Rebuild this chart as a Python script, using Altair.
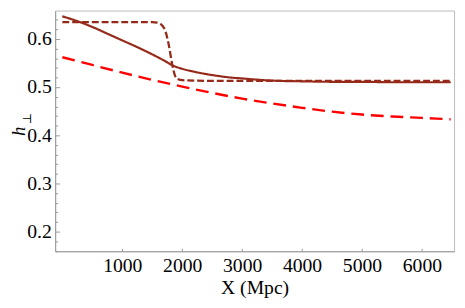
import altair as alt
import pandas as pd

# ---- data ----
x_solid = [0, 250, 500, 750, 1000, 1250, 1500, 1700, 1860, 2000, 2200, 2500, 2800,
           3000, 3300, 3600, 4000, 4500, 5000, 5500, 6000, 6480]
y_solid = [0.647, 0.637, 0.625, 0.611, 0.597, 0.583, 0.568, 0.555, 0.544, 0.538,
           0.532, 0.525, 0.520, 0.518, 0.515, 0.513, 0.512, 0.511, 0.511, 0.510,
           0.510, 0.510]

x_short = [0, 500, 1000, 1500, 1580, 1640, 1690, 1730, 1760, 1790, 1820, 1850,
           1880, 1920, 1970, 2050, 2500, 3000, 4000, 5000, 6000, 6480]
y_short = [0.635, 0.635, 0.635, 0.635, 0.634, 0.631, 0.624, 0.612, 0.597, 0.578,
           0.556, 0.537, 0.524, 0.517, 0.515, 0.514, 0.513, 0.513, 0.513, 0.513,
           0.513, 0.513]

x_long = [0, 500, 1000, 1500, 2000, 2500, 3000, 3500, 4000, 4500, 5000, 5500,
          6000, 6480]
y_long = [0.562, 0.546, 0.530, 0.515, 0.501, 0.488, 0.476, 0.466, 0.457, 0.449,
          0.443, 0.439, 0.436, 0.433]

series = ["solid", "short", "long"]
colors = ["#962a1a", "#962a1a", "#ff0000"]
dashes = [[1, 0], [7, 3], [13, 7]]
widths = [2.2, 2.4, 2.8]

x_ticks = [1000, 2000, 3000, 4000, 5000, 6000]
y_labels = [0.2, 0.3, 0.4, 0.5, 0.6]
y_minor = [round(0.16 + 0.02 * i, 2) for i in range(25)]
y_title_main = "h"
y_title_sub = ["⊥"]

rows = []
for name, xs_, ys_ in [("solid", x_solid, y_solid), ("short", x_short, y_short),
                       ("long", x_long, y_long)]:
    for i, (a, b) in enumerate(zip(xs_, ys_)):
        rows.append({"x": a, "y": b, "s": name, "o": i})
df = pd.DataFrame(rows)

W, H = 406, 245
FONT = "Liberation Serif"
xs = alt.Scale(domain=[-120, 6536], nice=False, zero=False)
ys = alt.Scale(domain=[0.159, 0.659], nice=False, zero=False)

lines = alt.Chart(df).mark_line(interpolate="monotone", clip=True).encode(
    x=alt.X("x:Q", scale=xs, axis=alt.Axis(
        values=x_ticks, ticks=False, grid=False, format="d",
        domainColor="#999999", labelPadding=5, title="X (Mpc)", titlePadding=2)),
    y=alt.Y("y:Q", scale=ys, axis=alt.Axis(
        values=y_labels, ticks=False, grid=False, format=".1f",
        domainColor="#999999", labelPadding=4, title=y_title_main, titlePadding=-2,
        titleFontStyle="italic", titleFontSize=19)),
    color=alt.Color("s:N", scale=alt.Scale(domain=series, range=colors), legend=None),
    strokeDash=alt.StrokeDash("s:N", scale=alt.Scale(domain=series, range=dashes), legend=None),
    strokeWidth=alt.StrokeWidth("s:N", scale=alt.Scale(domain=series, range=widths), legend=None),
    order="o:Q",
)

tick_layer = alt.Chart(df).mark_point(opacity=0).encode(
    x=alt.X("x:Q", scale=xs, axis=alt.Axis(
        orient="top", offset=-H, values=x_ticks, labels=False, domain=False,
        grid=False, tickSize=3, tickColor="#999999", title=None)),
    y=alt.Y("y:Q", scale=ys, axis=alt.Axis(
        orient="right", offset=-W, values=y_minor, labels=False, domain=False,
        grid=False, tickColor="#999999", title=None,
        tickSize={"condition": {"test": "abs(datum.value*10 - round(datum.value*10)) < 0.001",
                                "value": 4.5}, "value": 2.5})),
)

sub = alt.Chart(pd.DataFrame({"t": y_title_sub})).mark_text(
    angle=270, fontSize=12, font="DejaVu Serif", color="black", baseline="middle", align="center"
).encode(text="t:N", x=alt.value(-29), y=alt.value(110))

chart = alt.layer(lines, tick_layer, sub).resolve_scale(
    x="independent", y="independent"
).resolve_axis(
    x="independent", y="independent"
).properties(
    width=W, height=H,
    autosize=alt.AutoSizeParams(type="none"),
    padding={"left": 48, "top": 0, "right": 3, "bottom": 47},
).configure(font=FONT).configure_axis(
    labelFont=FONT, labelFontSize=20, labelColor="black",
    titleFont=FONT, titleFontSize=20, titleFontWeight="normal", titleColor="black",
).configure_view(stroke="#bbbbbb", strokeWidth=1)

chart.save("out.html", embed_options={"renderer": "svg", "actions": False})
